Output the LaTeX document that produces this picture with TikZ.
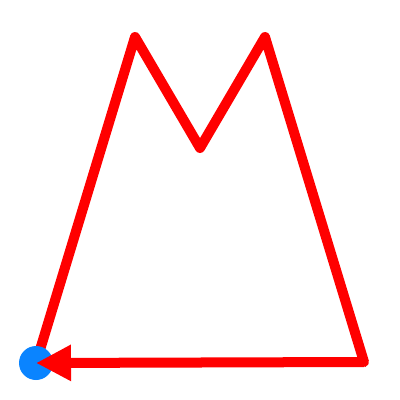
\documentclass[tikz,border=0pt]{standalone}
\usepackage{xcolor}
\usepackage{tikz}
\usetikzlibrary{arrows.meta}
\definecolor{mLine}{HTML}{FF0000}
\definecolor{mDot}{HTML}{0A84FF}
\tikzset{
  trace/.style={draw=mLine, line width=0.25cm, line join=round, line cap=round},
  closing/.style={trace, line cap=butt, -{Triangle[length=0.875cm, width=0.85cm]}, mLine},
  startdot/.style={fill=mDot, draw=none}
}

\begin{document}
\begin{tikzpicture}[x=0.025cm, y=-0.025cm]
  \useasboundingbox (0,0) rectangle (400,400);
  \coordinate (p0) at (36,363);
  \coordinate (p1) at (135,37);
  \coordinate (p2) at (200,148);
  \coordinate (p3) at (265,37);
  \coordinate (p4) at (364,362);
  \draw[trace] (p0) -- (p1) -- (p2) -- (p3) -- (p4);
  \fill[startdot] (p0) circle (17);
  \draw[closing] (p4) -- (p0);
\end{tikzpicture}
\end{document}
